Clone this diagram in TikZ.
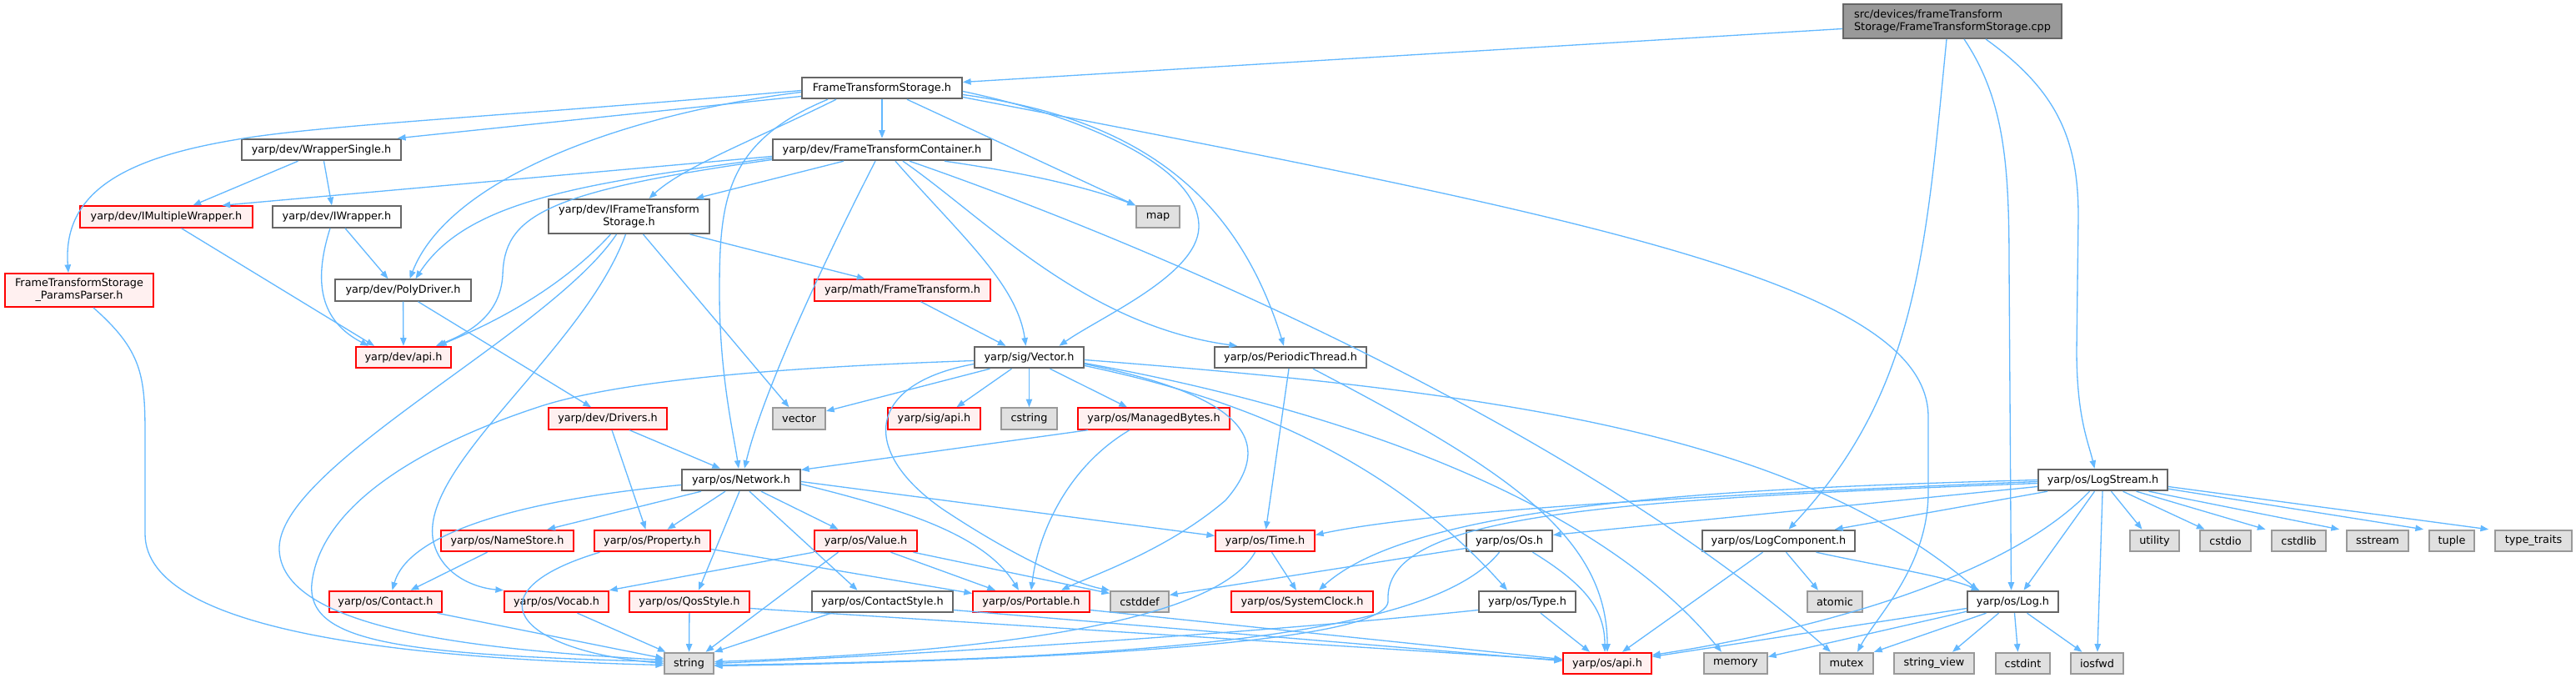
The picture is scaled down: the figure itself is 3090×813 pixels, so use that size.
\documentclass[tikz,border=0pt]{standalone}
\usepackage{fontspec}
\setmainfont{DejaVu Sans}
\usetikzlibrary{arrows.meta,calc}
\definecolor{DoxEdge}{HTML}{63B8FF}
\definecolor{DoxRoot}{HTML}{999999}
\definecolor{DoxRule}{HTML}{666666}
\definecolor{DoxExtFill}{HTML}{E0E0E0}
\definecolor{DoxExtRule}{HTML}{999999}
\definecolor{DoxRedFill}{HTML}{FFF0F0}
\definecolor{DoxRed}{HTML}{FF0000}

\begin{document}
\begin{tikzpicture}[
    x=0.02cm, y=-0.02cm,
    box/.style={draw=DoxRule,fill=white,line width=1.1pt,inner sep=0pt,minimum height=0.51cm,align=center,font=\fontsize{7.3pt}{8.5pt}\selectfont},
    redbox/.style={box,draw=DoxRed,fill=DoxRedFill},
    extbox/.style={box,draw=DoxExtRule,fill=DoxExtFill},
    rootbox/.style={box,fill=DoxRoot,align=left,minimum height=0.82cm},
    arr/.style={-{Triangle[length=5.5pt,width=4.2pt]},line width=0.75pt,draw=DoxEdge}
  ]
    \useasboundingbox (0,0) rectangle (3090,813);
    % nodes, row by row
    \node[rootbox,minimum width=5.24cm] (root) at (2342,25.5) {src/devices/frameTransform\\Storage/FrameTransformStorage.cpp};
    \node[box,minimum width=3.84cm] (fts) at (1058,105.5) {FrameTransformStorage.h};
    \node[box,minimum width=3.82cm] (ws) at (385.5,179.5) {yarp/dev/WrapperSingle.h};
    \node[box,minimum width=5.24cm] (ftc) at (1058,179.5) {yarp/dev/FrameTransformContainer.h};
    \node[redbox,minimum width=4.14cm] (imw) at (199.5,260) {yarp/dev/IMultipleWrapper.h};
    \node[box,minimum width=3.08cm] (iw) at (404,260) {yarp/dev/IWrapper.h};
    \node[box,minimum width=3.86cm,minimum height=0.82cm] (ifts) at (754.5,259.5) {yarp/dev/IFrameTransform\\Storage.h};
    \node[extbox,minimum width=1.04cm] (map) at (1389,260) {map};
    \node[redbox,minimum width=3.56cm,minimum height=0.80cm] (pp) at (95,348) {FrameTransformStorage\\\_ParamsParser.h};
    \node[box,minimum width=3.26cm] (pd) at (483.5,348) {yarp/dev/PolyDriver.h};
    \node[redbox,minimum width=4.22cm] (ft) at (1082.5,348) {yarp/math/FrameTransform.h};
    \node[redbox,minimum width=2.28cm] (devapi) at (484,428.5) {yarp/dev/api.h};
    \node[box,minimum width=2.62cm] (vec) at (1234.5,428.5) {yarp/sig/Vector.h};
    \node[box,minimum width=3.64cm] (pt) at (1548,428.5) {yarp/os/PeriodicThread.h};
    \node[redbox,minimum width=2.84cm] (drv) at (729,502) {yarp/dev/Drivers.h};
    \node[extbox,minimum width=1.26cm] (vector) at (958.5,502) {vector};
    \node[redbox,minimum width=2.22cm] (sigapi) at (1120.5,502) {yarp/sig/api.h};
    \node[extbox,minimum width=1.34cm] (cstring) at (1234.5,502) {cstring};
    \node[redbox,minimum width=3.64cm] (mb) at (1384,502) {yarp/os/ManagedBytes.h};
    \node[box,minimum width=2.84cm] (net) at (889,575.5) {yarp/os/Network.h};
    \node[box,minimum width=3.10cm] (ls) at (2522.5,575.5) {yarp/os/LogStream.h};
    \node[redbox,minimum width=3.18cm] (ns) at (608.5,648.5) {yarp/os/NameStore.h};
    \node[redbox,minimum width=2.78cm] (prop) at (782.5,648.5) {yarp/os/Property.h};
    \node[redbox,minimum width=2.46cm] (val) at (1038.5,648.5) {yarp/os/Value.h};
    \node[redbox,minimum width=2.38cm] (time) at (1517.5,648.5) {yarp/os/Time.h};
    \node[box,minimum width=2.06cm] (os) at (1810.5,648.5) {yarp/os/Os.h};
    \node[box,minimum width=3.66cm] (lc) at (2133.5,648.5) {yarp/os/LogComponent.h};
    \node[extbox,minimum width=1.18cm] (utility) at (2584.5,648.5) {utility};
    \node[extbox,minimum width=1.22cm] (cstdio) at (2669.5,648.5) {cstdio};
    \node[extbox,minimum width=1.30cm] (cstdlib) at (2757.5,648.5) {cstdlib};
    \node[extbox,minimum width=1.48cm] (sstream) at (2852,648.5) {sstream};
    \node[extbox,minimum width=1.08cm] (tuple) at (2941,648.5) {tuple};
    \node[extbox,minimum width=1.84cm] (ttraits) at (3039,648.5) {type\_traits};
    \node[redbox,minimum width=2.70cm] (contact) at (462.5,721.5) {yarp/os/Contact.h};
    \node[redbox,minimum width=2.50cm] (vocab) at (667.5,721.5) {yarp/os/Vocab.h};
    \node[redbox,minimum width=2.88cm] (qos) at (827,721.5) {yarp/os/QosStyle.h};
    \node[box,minimum width=3.38cm] (cstyle) at (1058.5,721.5) {yarp/os/ContactStyle.h};
    \node[redbox,minimum width=2.80cm] (port) at (1237,721.5) {yarp/os/Portable.h};
    \node[extbox,minimum width=1.40cm] (cstddef) at (1367,721.5) {cstddef};
    \node[redbox,minimum width=3.40cm] (sc) at (1562,721.5) {yarp/os/SystemClock.h};
    \node[box,minimum width=2.32cm] (type) at (1832,721.5) {yarp/os/Type.h};
    \node[extbox,minimum width=1.32cm] (atomic) at (2201,721.5) {atomic};
    \node[box,minimum width=2.18cm] (log) at (2414.5,721.5) {yarp/os/Log.h};
    \node[extbox,minimum width=1.18cm] (string) at (826.5,795.5) {string};
    \node[redbox,minimum width=2.12cm] (osapi) at (1928,795.5) {yarp/os/api.h};
    \node[extbox,minimum width=1.52cm] (memory) at (2082,795.5) {memory};
    \node[extbox,minimum width=1.28cm] (mutex) at (2215,795.5) {mutex};
    \node[extbox,minimum width=1.92cm] (sv) at (2320,795.5) {string\_view};
    \node[extbox,minimum width=1.30cm] (cstdint) at (2426.5,795.5) {cstdint};
    \node[extbox,minimum width=1.26cm] (iosfwd) at (2515.5,795.5) {iosfwd};
    % source file
    \draw[arr] ($(root.west)+(0,9)$) -- ($(fts.east)+(0,-7)$);
    \draw[arr] ($(root.south)+(-7,0)$) .. controls (2310,300) and (2300,470) .. ($(lc.north)+(12,0)$);
    \draw[arr] ($(root.south)+(14,0)$) .. controls (2405,120) and (2410,200) .. (2410,320) -- ($(log.north)+(-2,0)$);
    \draw[arr] ($(root.south)+(40,0)$) .. controls (2470,110) and (2493,170) .. (2493,260) -- (2491,420) .. controls (2491,500) and (2505,530) .. ($(ls.north)+(-10,0)$);
    % FrameTransformStorage.h
    \draw[arr] ($(fts.west)+(0,3)$) .. controls (600,140) and (380,150) .. (280,168) .. controls (150,190) and (75,230) .. ($(pp.north)+(-13,0)$);
    \draw[arr] ($(fts.west)+(0,10)$) -- ($(ws.north east)+(-5,0)$);
    \draw[arr] ($(fts.west)+(0,5)$) .. controls (760,135) and (540,210) .. ($(pd.north)+(8,0)$);
    \draw[arr] ($(fts.south)+(-55,0)$) .. controls (900,170) and (820,200) .. ($(ifts.north)+(24,0)$);
    \draw[arr] ($(fts.south)+(-65,0)$) .. controls (870,170) and (863,240) .. (863,350) .. controls (863,450) and (880,520) .. ($(net.north)+(-3,0)$);
    \draw[arr] (fts) -- (ftc);
    \draw[arr] ($(fts.south)+(30,0)$) -- (map.north west);
    \draw[arr] ($(fts.east)+(0,4)$) .. controls (1300,140) and (1440,200) .. (1438,273) .. controls (1436,330) and (1320,380) .. ($(vec.north)+(36,0)$);
    \draw[arr] ($(fts.east)+(0,8)$) .. controls (1350,140) and (1480,220) .. ($(pt.north)+(-8,0)$);
    \draw[arr] ($(fts.east)+(0,11)$) .. controls (1900,260) and (2313,340) .. (2313,500) -- (2313,590) .. controls (2313,680) and (2250,740) .. ($(mutex.north)+(13,0)$);
    % FrameTransformContainer.h
    \draw[arr] ($(ftc.west)+(0,8)$) -- ($(imw.north)+(67,0)$);
    \draw[arr] ($(ftc.west)+(0,10)$) .. controls (700,220) and (560,240) .. ($(pd.north)+(15,0)$);
    \draw[arr] ($(ftc.west)+(0,12)$) .. controls (650,230) and (605,260) .. (603,330) .. controls (600,380) and (560,400) .. ($(devapi.north)+(39,0)$);
    \draw[arr] ($(ftc.south)+(-46,0)$) -- ($(ifts.north)+(80,0)$);
    \draw[arr] ($(ftc.south)+(75,0)$) .. controls (1250,210) and (1320,230) .. (map.north west);
    \draw[arr] ($(ftc.south)+(-8,0)$) .. controls (990,310) and (915,470) .. ($(net.north)+(4,0)$);
    \draw[arr] ($(ftc.south)+(16,0)$) .. controls (1150,280) and (1220,340) .. ($(vec.north)+(-4,0)$);
    \draw[arr] ($(ftc.south)+(25,0)$) .. controls (1180,260) and (1300,390) .. ($(pt.north)+(-64,0)$);
    \draw[arr] ($(ftc.south)+(33,0)$) .. controls (1400,300) and (1900,520) .. ($(mutex.north)+(-19,0)$);
    % wrappers, drivers
    \draw[arr] ($(ws.south)+(-28,0)$) -- ($(imw.north)+(32,0)$);
    \draw[arr] ($(ws.south)+(3,0)$) -- ($(iw.north)+(-6,0)$);
    \draw[arr] ($(imw.south)+(18,0)$) -- ($(devapi.north)+(-35,0)$);
    \draw[arr] ($(iw.south)+(10,0)$) -- ($(pd.north)+(-18,0)$);
    \draw[arr] ($(iw.south)+(-8,0)$) .. controls (375,340) and (385,385) .. ($(devapi.north)+(-42,0)$);
    \draw[arr] (pd) -- (devapi);
    \draw[arr] ($(pd.south)+(18,0)$) -- ($(drv.north)+(-20,0)$);
    \draw[arr] ($(ifts.south)+(-22,0)$) .. controls (660,360) and (560,400) .. ($(devapi.north)+(42,0)$);
    \draw[arr] ($(ifts.south)+(-15,0)$) .. controls (660,400) and (330,560) .. (335,660) .. controls (340,760) and (600,780) .. ($(string.west)+(0,-4)$);
    \draw[arr] ($(ifts.south)+(-4,0)$) .. controls (700,420) and (500,560) .. (520,650) .. controls (530,690) and (570,705) .. (vocab.north west);
    \draw[arr] ($(ifts.south)+(17,0)$) -- ($(vector.north)+(-12,0)$);
    \draw[arr] ($(ifts.south)+(73,0)$) -- ($(ft.north)+(-45,0)$);
    \draw[arr] ($(ft.south)+(22,0)$) -- ($(vec.north)+(-28,0)$);
    \draw[arr] ($(pp.south)+(17,0)$) .. controls (170,420) and (174,450) .. (174,520) -- (174,640) .. controls (174,760) and (500,790) .. ($(string.west)+(0,2)$);
    % yarp/sig/Vector.h
    \draw[arr] ($(vec.west)+(0,4)$) .. controls (950,440) and (740,455) .. (640,490) .. controls (520,530) and (385,600) .. (374,700) .. controls (368,770) and (480,785) .. ($(string.west)+(0,-2)$);
    \draw[arr] ($(vec.south)+(-47,0)$) -- ($(vector.east)+(0,-9)$);
    \draw[arr] ($(vec.south)+(-21,0)$) -- ($(sigapi.north)+(27,0)$);
    \draw[arr] (vec) -- (cstring);
    \draw[arr] ($(vec.south)+(25,0)$) -- ($(mb.north)+(-32,0)$);
    \draw[arr] ($(vec.west)+(0,8)$) .. controls (1040,460) and (1030,540) .. (1130,610) .. controls (1220,670) and (1290,700) .. (cstddef.north west);
    \draw[arr] ($(vec.east)+(0,8)$) .. controls (1470,470) and (1540,520) .. (1470,600) .. controls (1400,660) and (1310,690) .. ($(port.north)+(36,0)$);
    \draw[arr] ($(vec.east)+(0,10)$) .. controls (1450,470) and (1650,530) .. ($(type.north)+(-24,0)$);
    \draw[arr] ($(vec.east)+(0,7)$) .. controls (1550,480) and (1900,580) .. ($(memory.north)+(-17,0)$);
    \draw[arr] ($(vec.east)+(0,3)$) .. controls (1800,470) and (2150,520) .. ($(log.north)+(-42,0)$);
    \draw[arr] ($(mb.south west)+(13,0)$) -- ($(net.east)+(0,-12)$);
    \draw[arr] ($(mb.south)+(-29,0)$) .. controls (1280,560) and (1245,640) .. (port.north);
    \draw[arr] ($(pt.south)+(-2,0)$) -- ($(time.north)+(1,0)$);
    \draw[arr] ($(pt.south)+(27,0)$) .. controls (1800,560) and (1928,640) .. (osapi.north);
    \draw[arr] ($(drv.south)+(26,0)$) -- ($(net.north)+(-25,0)$);
    \draw[arr] ($(drv.south)+(5,0)$) -- ($(prop.north)+(-8,0)$);
    % yarp/os/Network.h
    \draw[arr] ($(net.west)+(0,6)$) .. controls (620,600) and (490,640) .. ($(contact.north)+(8,0)$);
    \draw[arr] ($(net.south)+(-48,0)$) -- ($(ns.north)+(48,0)$);
    \draw[arr] ($(net.south)+(-19,0)$) -- ($(prop.north)+(18,0)$);
    \draw[arr] ($(net.south)+(-2,0)$) -- ($(qos.north)+(11,0)$);
    \draw[arr] ($(net.south)+(10,0)$) -- ($(cstyle.north)+(-30,0)$);
    \draw[arr] ($(net.south)+(24,0)$) -- ($(val.north)+(-33,0)$);
    \draw[arr] ($(net.east)+(0,5)$) .. controls (1080,610) and (1180,640) .. ($(port.north)+(-15,0)$);
    \draw[arr] ($(net.east)+(0,2)$) -- ($(time.west)+(0,-6)$);
    \draw[arr] ($(ns.south)+(-24,0)$) -- ($(contact.north)+(30,0)$);
    \draw[arr] ($(prop.south)+(-63,0)$) .. controls (560,710) and (620,780) .. (string.west);
    \draw[arr] ($(prop.east)+(0,10)$) -- ($(port.west)+(0,-10)$);
    \draw[arr] (val.south west) -- (vocab.north east);
    \draw[arr] ($(val.south)+(-33,0)$) -- ($(string.north)+(20,0)$);
    \draw[arr] ($(val.south)+(30,0)$) -- ($(port.north)+(-43,0)$);
    \draw[arr] ($(val.south)+(57,0)$) -- ($(cstddef.west)+(0,-10)$);
    % lower row
    \draw[arr] ($(vocab.south)+(25,0)$) -- ($(string.north)+(-28,0)$);
    \draw[arr] ($(contact.south)+(62,0)$) -- ($(string.west)+(0,-6)$);
    \draw[arr] (qos) -- (string);
    \draw[arr] ($(qos.east)+(0,8)$) -- ($(osapi.west)+(0,-4)$);
    \draw[arr] ($(cstyle.south west)+(24,0)$) -- (string.north east);
    \draw[arr] ($(cstyle.east)+(0,10)$) -- ($(osapi.west)+(0,-3)$);
    \draw[arr] ($(port.east)+(0,10)$) -- ($(osapi.west)+(0,-5)$);
    \draw[arr] ($(time.south)+(8,0)$) -- ($(sc.north)+(-7,0)$);
    \draw[arr] ($(time.south)+(-12,0)$) .. controls (1450,760) and (1100,785) .. ($(string.east)+(0,-2)$);
    \draw[arr] ($(os.west)+(0,9)$) -- ($(cstddef.east)+(0,-8)$);
    \draw[arr] ($(os.south)+(-12,0)$) .. controls (1720,760) and (1400,790) .. ($(string.east)+(0,2)$);
    \draw[arr] ($(os.south)+(28,0)$) .. controls (1900,700) and (1925,730) .. ($(osapi.north)+(-3,0)$);
    \draw[arr] ($(type.west)+(0,10)$) .. controls (1500,760) and (1100,785) .. (string.east);
    \draw[arr] ($(type.south)+(16,0)$) -- ($(osapi.north)+(-21,0)$);
    \draw[arr] ($(lc.south)+(-19,0)$) -- ($(osapi.north)+(18,0)$);
    \draw[arr] ($(lc.south)+(9,0)$) -- ($(atomic.north)+(-20,0)$);
    \draw[arr] ($(lc.south)+(45,0)$) .. controls (2260,680) and (2330,690) .. ($(log.north)+(-40,0)$);
    % yarp/os/LogStream.h
    \draw[arr] ($(ls.west)+(0,2)$) .. controls (2000,595) and (1700,615) .. ($(time.east)+(0,-7)$);
    \draw[arr] (ls.west) .. controls (2100,585) and (1700,600) .. ($(sc.north)+(20,0)$);
    \draw[arr] ($(ls.west)+(0,8)$) -- ($(os.east)+(0,-7)$);
    \draw[arr] ($(ls.west)+(0,4)$) .. controls (1900,600) and (1660,620) .. (1665,720) .. controls (1670,780) and (1100,795) .. ($(string.east)+(0,3)$);
    \draw[arr] ($(ls.south west)+(12,0)$) -- ($(lc.north east)+(-25,0)$);
    \draw[arr] ($(ls.south)+(-16,0)$) .. controls (2400,700) and (2150,760) .. ($(osapi.east)+(0,-10)$);
    \draw[arr] ($(ls.south)+(-10,0)$) -- ($(log.north)+(13,0)$);
    \draw[arr] (ls) -- (iosfwd);
    \draw[arr] ($(ls.south)+(10,0)$) -- ($(utility.north)+(-15,0)$);
    \draw[arr] ($(ls.south)+(24,0)$) -- ($(cstdio.north)+(-25,0)$);
    \draw[arr] ($(ls.south)+(40,0)$) -- ($(cstdlib.north)+(-40,0)$);
    \draw[arr] ($(ls.south)+(55,0)$) -- ($(sstream.north)+(-46,0)$);
    \draw[arr] ($(ls.south east)+(0,-3)$) -- ($(tuple.north)+(-34,0)$);
    \draw[arr] ($(ls.east)+(0,8)$) -- ($(ttraits.north west)+(-7,0)$);
    % yarp/os/Log.h
    \draw[arr] ($(log.west)+(0,8)$) -- ($(osapi.east)+(0,-8)$);
    \draw[arr] ($(log.south west)+(0,-2)$) -- ($(memory.east)+(0,-8)$);
    \draw[arr] ($(log.south)+(-32,0)$) -- (mutex.north east);
    \draw[arr] ($(log.south)+(-17,0)$) -- ($(sv.north)+(22,0)$);
    \draw[arr] ($(log.south)+(2,0)$) -- ($(cstdint.north)+(-6,0)$);
    \draw[arr] ($(log.south)+(17,0)$) -- ($(iosfwd.north)+(-18,0)$);
  \end{tikzpicture}
\end{document}
